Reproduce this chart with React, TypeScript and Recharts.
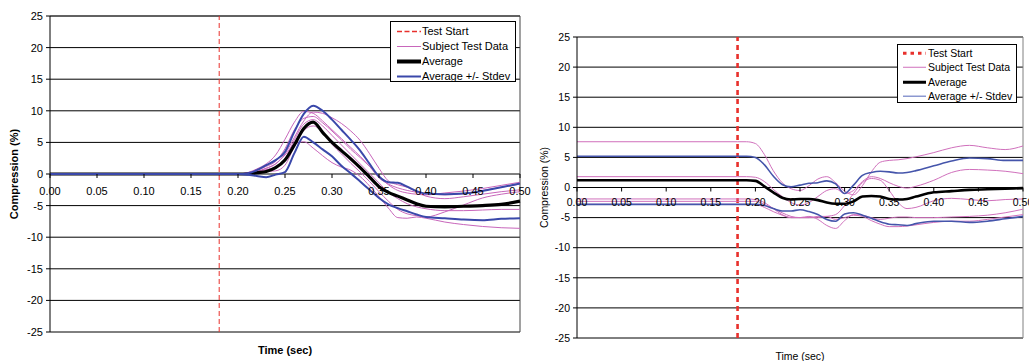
import React from 'react';
import { LineChart, Line, XAxis, YAxis, CartesianGrid, ReferenceLine, Legend } from 'recharts';

// Shared axis setup
const TEST_START = 0.18;
const X_TICKS = [0, 0.05, 0.1, 0.15, 0.2, 0.25, 0.3, 0.35, 0.4, 0.45, 0.5];
const Y_TICKS = [-25, -20, -15, -10, -5, 0, 5, 10, 15, 20, 25];

// ---- Left panel ----
const TIME_A = [0, 0.2, 0.21, 0.22, 0.23, 0.24, 0.25, 0.26, 0.27, 0.28, 0.29, 0.3, 0.31, 0.32, 0.33, 0.34, 0.35, 0.36, 0.37, 0.38, 0.39, 0.4, 0.42, 0.44, 0.46, 0.48, 0.5];
const AVG_A = [0, 0, 0, 0.2, 0.4, 1.0, 2.2, 4.6, 7.2, 8.2, 6.6, 5.0, 3.7, 2.4, 1.0, -0.5, -2.0, -2.9, -3.5, -4.1, -4.7, -5.1, -5.2, -5.1, -5.0, -4.8, -4.3];
const UPPER_A = [0, 0, 0.1, 0.6, 1.4, 2.2, 3.5, 6.7, 9.5, 10.8, 10.0, 8.6, 7.0, 5.4, 3.7, 1.6, -0.4, -1.3, -1.4, -2.0, -2.7, -3.1, -3.2, -3.1, -2.7, -2.1, -1.5];
const LOWER_A = [0, 0, -0.1, -0.3, -0.5, -0.1, 0.3, 3.3, 5.9, 5.0, 3.9, 2.8, 1.3, 0.1, -1.2, -2.5, -3.8, -4.8, -5.4, -5.9, -6.4, -6.8, -7.0, -7.2, -7.3, -7.1, -7.0];
const SUBJ_A1 = [0, 0, 0.2, 0.8, 1.6, 3.0, 5.5, 8.2, 9.9, 9.6, 8.4, 7.0, 5.6, 4.2, 2.8, 1.2, -0.6, -1.6, -2.2, -2.6, -2.9, -3.1, -3.3, -3.1, -2.6, -2.1, -1.6];
const SUBJ_A2 = [0, 0, 0.1, 0.4, 0.9, 1.6, 3.2, 5.8, 8.4, 9.8, 9.6, 8.9, 8.0, 6.8, 5.3, 3.2, 0.9, -1.1, -1.7, -2.1, -2.8, -3.5, -3.9, -3.6, -3.2, -2.8, -2.5];
const SUBJ_A3 = [0, 0, 0, 0.3, 0.7, 1.1, 2.4, 5.4, 7.9, 8.6, 7.6, 6.1, 4.6, 3.1, 1.6, 0.1, -1.4, -2.9, -3.9, -4.7, -5.2, -5.5, -5.8, -5.8, -5.7, -5.6, -5.6];
const SUBJ_A4 = [0, 0, 0, 0.2, 0.4, 0.5, 1.4, 4.4, 6.9, 7.6, 6.6, 4.7, 3.2, 1.7, 0.3, -1.2, -2.8, -4.3, -5.6, -6.3, -6.6, -6.8, -6.0, -4.9, -3.8, -3.2, -2.8];
const SUBJ_A5 = [0, 0, 0, 0.4, 0.9, 1.6, 3.0, 4.7, 5.1, 4.1, 2.9, 1.8, 1.1, 0.6, -0.4, -1.9, -3.6, -5.4, -6.9, -7.0, -6.8, -7.0, -7.6, -8.0, -8.3, -8.5, -8.6];
const SUBJ_A6 = [0, 0, 0.2, 0.6, 1.2, 2.0, 4.0, 7.0, 8.8, 9.1, 8.1, 6.8, 5.4, 3.9, 2.6, 1.2, -0.3, -1.7, -2.6, -3.0, -3.2, -3.3, -3.0, -2.7, -2.3, -1.8, -1.3];

// ---- Right panel ----
const TIME_B = [0, 0.18, 0.19, 0.2, 0.21, 0.22, 0.23, 0.24, 0.25, 0.26, 0.27, 0.28, 0.29, 0.3, 0.31, 0.32, 0.33, 0.34, 0.35, 0.36, 0.37, 0.38, 0.4, 0.42, 0.44, 0.46, 0.48, 0.5];
const AVG_B = [1.2, 1.2, 1.2, 1.1, 0.2, -0.8, -1.7, -2.0, -1.9, -1.9, -2.1, -2.5, -2.7, -2.7, -2.3, -1.5, -1.4, -1.5, -1.9, -2.0, -1.9, -1.5, -0.8, -0.6, -0.4, -0.3, -0.2, -0.1];
const UPPER_B = [5.2, 5.2, 5.2, 5.0, 3.8, 1.9, 0.5, 0.1, 0.4, 0.7, 0.8, 1.1, 0.6, -1.0, 0.4, 2.0, 2.5, 2.7, 2.6, 2.4, 2.5, 2.8, 3.6, 4.4, 4.9, 4.8, 4.5, 4.5];
const LOWER_B = [-2.8, -2.8, -2.8, -2.8, -3.0, -3.5, -3.9, -3.9, -3.7, -4.0, -4.5, -5.3, -5.6, -4.4, -4.2, -4.6, -5.1, -5.7, -6.1, -6.2, -6.3, -6.0, -5.6, -5.6, -5.8, -5.6, -5.2, -4.8];
const SUBJ_B1 = [7.6, 7.6, 7.6, 7.3, 5.5, 2.8, 0.8, -0.2, -0.5, 0.3, 1.4, 1.8, 0.8, -0.6, -1.2, 0.3, 2.6, 4.2, 4.5, 4.6, 4.8, 5.1, 5.8, 6.6, 7.0, 6.6, 6.3, 6.9];
const SUBJ_B2 = [1.8, 1.8, 1.8, 1.7, 1.0, -0.3, -1.5, -2.5, -2.9, -2.5, -1.5, -0.5, -0.2, -1.0, -0.5, 1.0, 1.8, 1.5, 0.8, 0.2, -0.1, 0.2, 1.2, 2.5, 3.0, 2.9, 2.7, 2.3];
const SUBJ_B3 = [-1.9, -1.9, -1.9, -2.0, -2.5, -3.5, -4.5, -5.0, -5.0, -5.0, -5.0, -4.8, -4.5, -3.0, -1.0, 0.8, 1.5, 1.2, -0.5, -2.5, -3.5, -3.3, -2.2, -1.8, -2.0, -2.2, -2.0, -1.9];
const SUBJ_B4 = [-2.3, -2.3, -2.3, -2.3, -2.8, -3.5, -4.2, -4.8, -5.0, -4.8, -5.3, -6.3, -6.8, -5.5, -4.5, -4.6, -5.0, -5.3, -5.1, -4.9, -4.9, -5.0, -5.0, -4.9, -4.8, -4.6, -4.2, -3.6];
const SUBJ_B5 = [-2.8, -2.8, -2.8, -2.8, -3.3, -4.0, -4.6, -5.0, -5.0, -5.0, -4.8, -4.8, -5.3, -5.0, -4.6, -4.8, -5.5, -6.1, -6.5, -6.5, -6.4, -6.2, -5.8, -5.6, -5.6, -5.3, -4.9, -4.5];

const FONT = '"Liberation Sans", Arial, Helvetica, sans-serif';

type Row = Record<string, number>;
function buildRows(time: number[], series: Record<string, number[]>): Row[] {
  return time.map((t, i) => {
    const row: Row = { t };
    Object.keys(series).forEach((k) => {
      row[k] = series[k][i];
    });
    return row;
  });
}

const rowsA = buildRows(TIME_A, {
  s1: SUBJ_A1, s2: SUBJ_A2, s3: SUBJ_A3, s4: SUBJ_A4, s5: SUBJ_A5, s6: SUBJ_A6,
  up: UPPER_A, lo: LOWER_A, avg: AVG_A,
});
const rowsB = buildRows(TIME_B, {
  s1: SUBJ_B1, s2: SUBJ_B2, s3: SUBJ_B3, s4: SUBJ_B4, s5: SUBJ_B5,
  up: UPPER_B, lo: LOWER_B, avg: AVG_B,
});

type Style = {
  pink: string; blue: string; blueW: number; avgW: number;
  fontSize: number; bold: boolean;
  redDash: string; redW: number; border: string;
  legendBlue: string; legendRedDash: string; legendRedW: number; legendAvgW: number; legendBlueW: number;
};

// X tick labels sit just under the zero line instead of the bottom of the plot
function zeroTick(shift: number, gap: number, fontSize: number) {
  return (p: any) => {
    const y0 = p.y + shift;
    return (
      <g>
        <line x1={p.x} x2={p.x} y1={y0} y2={y0 + 4} stroke="#000" strokeWidth={1} />
        <text x={p.x} y={y0 + gap} textAnchor="middle" dominantBaseline="central"
          fontSize={fontSize} fontFamily={FONT} fill="#000">
          {Number(p.payload.value).toFixed(2)}
        </text>
      </g>
    );
  };
}

function LegendBox({ st, w, h, rowH, padTop, lineX, lineEnd, textX }: { st: Style; w: number; h: number; rowH: number; padTop: number; lineX: number; lineEnd: number; textX: number }) {
  const items = [
    { label: 'Test Start', color: '#e8302c', width: st.legendRedW, dash: st.legendRedDash },
    { label: 'Subject Test Data', color: st.pink, width: 1, dash: undefined },
    { label: 'Average', color: '#000', width: st.legendAvgW, dash: undefined },
    { label: 'Average +/- Stdev', color: st.legendBlue, width: st.legendBlueW, dash: undefined },
  ];
  return (
    <div style={{
      width: w, height: h, boxSizing: 'border-box', border: '1px solid #000', background: '#fff',
      paddingTop: padTop, fontFamily: FONT, fontSize: st.fontSize, color: '#000',
    }}>
      {items.map((it) => (
        <div key={it.label} style={{ position: 'relative', height: rowH, lineHeight: `${rowH}px`, whiteSpace: 'nowrap' }}>
          <svg width={lineEnd + 2} height={rowH} style={{ position: 'absolute', left: 0, top: 0 }}>
            <line x1={lineX} x2={lineEnd} y1={rowH / 2} y2={rowH / 2} stroke={it.color}
              strokeWidth={it.width} strokeDasharray={it.dash} />
          </svg>
          <span style={{ position: 'absolute', left: textX, top: 0 }}>{it.label}</span>
        </div>
      ))}
    </div>
  );
}

function Panel(props: {
  rows: Row[]; subjects: string[]; st: Style;
  width: number; height: number; margin: { top: number; right: number; left: number; bottom: number };
  yAxisW: number; xAxisH: number; tickGap: number; yTitleX: number; xTitleDy: number;
  legend: { left: number; top: number; w: number; h: number; rowH: number; padTop: number; lineX: number; lineEnd: number; textX: number };
}) {
  const { rows, subjects, st, width, height, margin, yAxisW, xAxisH, legend } = props;
  const plotH = height - margin.top - margin.bottom - xAxisH;
  const weight = st.bold ? 'bold' : 'normal';
  return (
    <LineChart width={width} height={height} data={rows} margin={margin} style={{ overflow: 'visible' }}>
      <CartesianGrid vertical={false} stroke="#000" strokeWidth={1} />
      <ReferenceLine y={25} stroke={st.border} strokeWidth={1} />
      <ReferenceLine x={0.5} stroke={st.border} strokeWidth={1} />
      <XAxis type="number" dataKey="t" domain={[0, 0.5]} ticks={X_TICKS} interval={0}
        axisLine={false} tickLine={false} tickSize={0} tickMargin={0} height={xAxisH}
        tick={zeroTick(-plotH / 2, props.tickGap, st.fontSize)}
        label={{
          content: (lp: any) => {
            const vb = lp.viewBox;
            return (
              <text x={vb.x + vb.width / 2} y={vb.y + props.xTitleDy} textAnchor="middle" dominantBaseline="central"
                fontSize={st.fontSize} fontWeight={weight} fontFamily={FONT} fill="#000">Time (sec)</text>
            );
          },
        }}
      />
      <YAxis type="number" domain={[-25, 25]} ticks={Y_TICKS} interval={0} width={yAxisW}
        axisLine={{ stroke: '#000' }} tickLine={{ stroke: '#000' }} tickSize={4} tickMargin={3}
        tick={{ fontSize: st.fontSize, fontFamily: FONT, fill: '#000' }}
        label={{
          content: (lp: any) => {
            const vb = lp.viewBox;
            const cx = vb.x + props.yTitleX;
            const cy = vb.y + vb.height / 2;
            return (
              <text x={cx} y={cy} transform={`rotate(-90, ${cx}, ${cy})`} textAnchor="middle" dominantBaseline="central"
                fontSize={st.fontSize} fontWeight={weight} fontFamily={FONT} fill="#000">Compression (%)</text>
            );
          },
        }}
      />
      <ReferenceLine x={TEST_START} stroke="#e8302c" strokeWidth={st.redW} strokeDasharray={st.redDash} />
      {subjects.map((k) => (
        <Line key={k} type="monotone" dataKey={k} stroke={st.pink} strokeWidth={1} dot={false}
          activeDot={false} isAnimationActive={false} legendType="none" />
      ))}
      <Line type="monotone" dataKey="avg" stroke="#000" strokeWidth={st.avgW} dot={false} activeDot={false} isAnimationActive={false} legendType="none" />
      <Line type="monotone" dataKey="up" stroke={st.blue} strokeWidth={st.blueW} dot={false} activeDot={false} isAnimationActive={false} legendType="none" />
      <Line type="monotone" dataKey="lo" stroke={st.blue} strokeWidth={st.blueW} dot={false} activeDot={false} isAnimationActive={false} legendType="none" />
      <Legend layout="vertical" verticalAlign="middle" align="center"
        wrapperStyle={{ left: legend.left, top: legend.top, width: legend.w, height: legend.h }}
        content={() => (
          <LegendBox st={st} w={legend.w} h={legend.h} rowH={legend.rowH} padTop={legend.padTop}
            lineX={legend.lineX} lineEnd={legend.lineEnd} textX={legend.textX} />
        )}
      />
    </LineChart>
  );
}

const STYLE_A: Style = {
  pink: '#c866bb', blue: '#3a48aa', blueW: 2, avgW: 3.2, fontSize: 11, bold: true,
  redDash: '5 3', redW: 1, border: '#444',
  legendBlue: '#3a48aa', legendRedDash: '5 2.5', legendRedW: 1.5, legendAvgW: 4, legendBlueW: 2,
};
const STYLE_B: Style = {
  pink: '#d070bc', blue: '#4555ab', blueW: 1.6, avgW: 2.6, fontSize: 10.5, bold: false,
  redDash: '5 4', redW: 2.6, border: '#808080',
  legendBlue: '#8c98d0', legendRedDash: '3.5 4', legendRedW: 3, legendAvgW: 3, legendBlueW: 1.5,
};

export default function App() {
  return (
    <div style={{ position: 'absolute', left: 0, top: 0, width: 1029, height: 361, background: '#fff', overflow: 'hidden' }}>
      <div style={{ position: 'absolute', left: 0, top: 0 }}>
        <Panel rows={rowsA} subjects={['s1', 's2', 's3', 's4', 's5', 's6']} st={STYLE_A}
          width={540} height={361} margin={{ top: 16, right: 20, left: 0, bottom: 0 }}
          yAxisW={50} xAxisH={29} tickGap={17} yTitleX={14} xTitleDy={18}
          legend={{ left: 390, top: 21, w: 126, h: 61, rowH: 15, padTop: 1.5, lineX: 6, lineEnd: 30, textX: 31 }} />
      </div>
      <div style={{ position: 'absolute', left: 521, top: 0 }}>
        <Panel rows={rowsB} subjects={['s1', 's2', 's3', 's4', 's5']} st={STYLE_B}
          width={508} height={361} margin={{ top: 37, right: 6, left: 0, bottom: 0 }}
          yAxisW={56} xAxisH={23} tickGap={14.5} yTitleX={23} xTitleDy={18}
          legend={{ left: 376, top: 44, w: 120, h: 59, rowH: 14.5, padTop: 0.5, lineX: 5, lineEnd: 28, textX: 30 }} />
      </div>
    </div>
  );
}
